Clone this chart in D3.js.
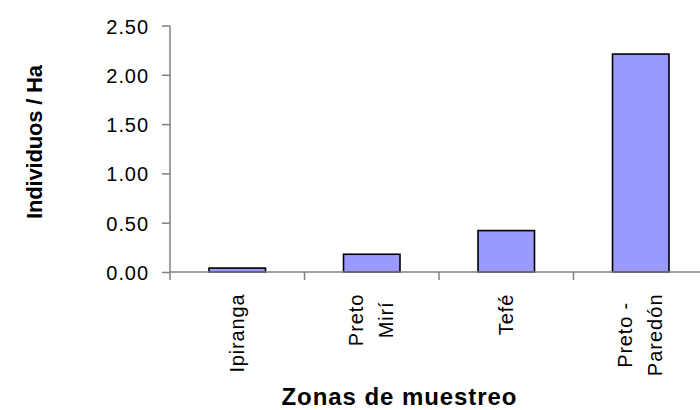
<!DOCTYPE html>
<html>
<head>
<meta charset="utf-8">
<script src="https://cdn.jsdelivr.net/npm/d3@7"></script>
<style>
  html, body { margin: 0; padding: 0; background: #fff; }
  svg { display: block; font-family: Arial, "Liberation Sans", sans-serif; }
</style>
</head>
<body>
<svg id="chart" width="700" height="410"></svg>
<script>
// ---- data ----
const categories = ["Ipiranga", "Preto Mirí", "Tefé", "Preto - Paredón"];
const categoryLines = [["Ipiranga"], ["Preto", "Mirí"], ["Tefé"], ["Preto -", "Paredón"]];
const values = [0.04, 0.18, 0.42, 2.21];
const yTicks = [0, 0.5, 1.0, 1.5, 2.0, 2.5];
const yTickLabels = ["0.00", "0.50", "1.00", "1.50", "2.00", "2.50"];
const yTitle = "Individuos / Ha";
const xTitle = "Zonas de muestreo";

const svg = d3.select("#chart");
const axisColor = "#808080";
const tickFont = "20px";

const x = d3.scaleBand().domain(categories).range([170, 708]).paddingInner(0.58).paddingOuter(0.29);
const y = d3.scaleLinear().domain([0, 2.5]).range([272, 25.5]);
const step = x.step();

// bars
svg.append("g").selectAll("rect").data(categories).join("rect")
  .attr("x", d => x(d))
  .attr("width", x.bandwidth())
  .attr("y", (d, i) => y(values[i]))
  .attr("height", (d, i) => y(0) - y(values[i]))
  .attr("fill", "#9999ff")
  .attr("stroke", "#000")
  .attr("stroke-width", 1.6);

// y axis
const yAxis = svg.append("g").attr("transform", "translate(170,0)")
  .call(d3.axisLeft(y).tickValues(yTicks).tickFormat((d, i) => yTickLabels[i]).tickSize(8).tickSizeOuter(0));
yAxis.select(".domain").remove();
yAxis.append("line").attr("x1", 0).attr("x2", 0).attr("y1", y(2.5)).attr("y2", 280)
  .attr("stroke", axisColor).attr("stroke-width", 1.5);
yAxis.selectAll(".tick line").attr("stroke", axisColor).attr("stroke-width", 1.5);
yAxis.selectAll(".tick text")
  .attr("x", -22).attr("dy", null).attr("y", 7.5)
  .attr("fill", "#000").style("font-size", tickFont)
  .style("font-family", "Arial, 'Liberation Sans', sans-serif");

// x axis line and ticks
svg.append("line").attr("x1", 170).attr("x2", 708).attr("y1", y(0)).attr("y2", y(0))
  .attr("stroke", axisColor).attr("stroke-width", 1.5);
svg.append("g").selectAll("line").data(categories).join("line")
  .attr("x1", d => x(d) + x.bandwidth() / 2 + step / 2)
  .attr("x2", d => x(d) + x.bandwidth() / 2 + step / 2)
  .attr("y1", y(0)).attr("y2", y(0) + 8)
  .attr("stroke", axisColor).attr("stroke-width", 1.5);

// category labels (rotated)
const labG = svg.append("g").selectAll("g").data(categories).join("g")
  .attr("transform", d => `translate(${x(d) + x.bandwidth() / 2},0)`);
labG.each(function(d, i) {
  const lines = categoryLines[i];
  const g = d3.select(this);
  const t = g.append("text")
    .attr("transform", "rotate(-90)")
    .attr("text-anchor", "middle")
    .style("font-size", tickFont).attr("fill", "#000");
  const offsets = lines.length === 1 ? [6.5] : [-9, 21.5];
  lines.forEach((ln, j) => {
    t.append("tspan").attr("x", 0).attr("y", offsets[j]).text(ln);
  });
  let maxLen = 0;
  t.selectAll("tspan").each(function() {
    const L = this.getComputedTextLength();
    d3.select(this).attr("textLength", L * 1.08).attr("lengthAdjust", "spacing");
    maxLen = Math.max(maxLen, L * 1.08);
  });
  const cy = 294.5 + maxLen / 2;
  t.selectAll("tspan").attr("x", -cy);
});

yAxis.selectAll(".tick text").each(function() {
  const L = this.getComputedTextLength();
  d3.select(this).attr("textLength", L * 1.07).attr("lengthAdjust", "spacing");
});

// titles
svg.append("text")
  .attr("x", 399).attr("y", 405)
  .attr("text-anchor", "middle")
  .style("font-size", "24px").style("font-weight", "bold")
  .attr("textLength", 235).attr("lengthAdjust", "spacing")
  .text(xTitle);

svg.append("text")
  .attr("transform", "translate(42,142) rotate(-90)")
  .attr("text-anchor", "middle")
  .style("font-size", "22px").style("font-weight", "bold")
  .attr("textLength", 154).attr("lengthAdjust", "spacing")
  .text(yTitle);
</script>
</body>
</html>
